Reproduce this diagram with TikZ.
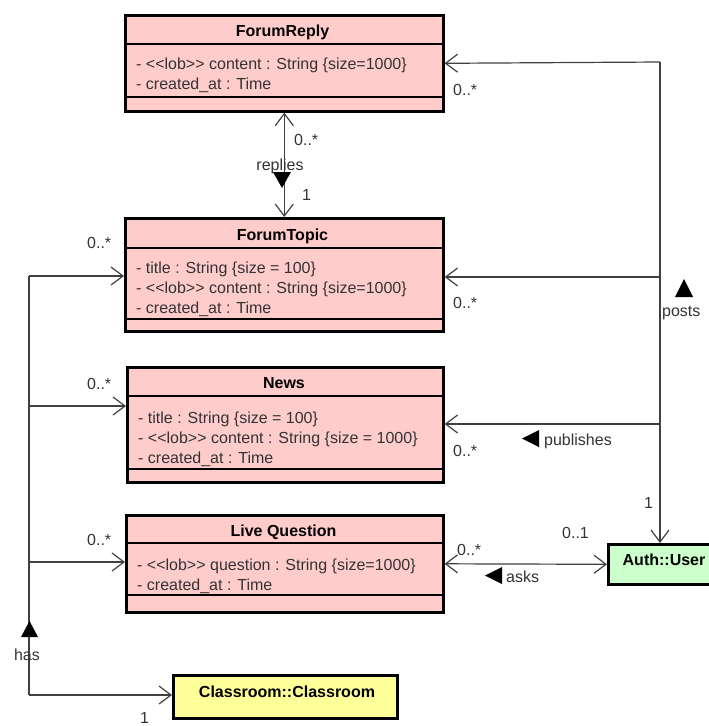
\documentclass[tikz,border=0pt]{standalone}
\usepackage{fontspec}
\setmainfont{Liberation Sans}[Ligatures=TeXOff]
\usetikzlibrary{arrows.meta}

\definecolor{clspink}{RGB}{255,204,204}
\definecolor{clsgreen}{RGB}{204,255,204}
\definecolor{clsyellow}{RGB}{255,255,153}
\definecolor{inkgrey}{RGB}{51,51,51}
\definecolor{linegrey}{RGB}{64,64,64}

\tikzset{
  classbox/.style={draw=black, line width=2.6pt, inner sep=0pt, anchor=north west},
  compart/.style={draw=black, line width=1.1pt},
  classtitle/.style={font=\fontsize{16}{19}\selectfont\bfseries, anchor=base, inner sep=0pt},
  attr/.style={text=inkgrey, anchor=base west, inner sep=0pt},
  mult/.style={text=inkgrey, anchor=base west, inner sep=0pt},
  assoc/.style={draw=linegrey, line width=1.2pt},
  dirmark/.style={fill=black},
}

\begin{document}
\begin{tikzpicture}[x=1pt, y=-1pt, font=\fontsize{16}{19}\selectfont,
  >={Straight Barb[length=12pt,width=18pt,line width=1.2pt]}]
\useasboundingbox (0,0) rectangle (709,726);

% ---------- classes ----------
\node[classbox, fill=clspink, minimum width=318pt, minimum height=96pt] (reply) at (124,14) {};
\draw[compart] (124,44) -- (442,44);
\draw[compart] (124,97) -- (442,97);
\node[classtitle] (replyname) at (282.5,36) {ForumReply};
\node[attr] (replya1) at (136,69) {- <<lob>> content : String \{size=1000\}};
\node[attr] (replya2) at (136,89) {- created\_at : Time};

\node[classbox, fill=clspink, minimum width=318pt, minimum height=113pt] (topic) at (124,217) {};
\draw[compart] (124,248) -- (442,248);
\draw[compart] (124,319) -- (442,319);
\node[classtitle] (topicname) at (282.5,240) {ForumTopic};
\node[attr] (topica1) at (136,273) {- title : String \{size = 100\}};
\node[attr] (topica2) at (136,293) {- <<lob>> content : String \{size=1000\}};
\node[attr] (topica3) at (136,313) {- created\_at : Time};

\node[classbox, fill=clspink, minimum width=316pt, minimum height=115pt] (news) at (126,366) {};
\draw[compart] (126,396) -- (442,396);
\draw[compart] (126,469) -- (442,469);
\node[classtitle] (newsname) at (284,388) {News};
\node[attr] (newsa1) at (138,423) {- title : String \{size = 100\}};
\node[attr] (newsa2) at (138,443) {- <<lob>> content : String \{size = 1000\}};
\node[attr] (newsa3) at (138,463) {- created\_at : Time};

\node[classbox, fill=clspink, minimum width=317pt, minimum height=97pt] (liveq) at (125,514) {};
\draw[compart] (125,543) -- (442,543);
\draw[compart] (125,595) -- (442,595);
\node[classtitle] (liveqname) at (283.5,536) {Live Question};
\node[attr] (liveqa1) at (137,570) {- <<lob>> question : String \{size=1000\}};
\node[attr] (liveqa2) at (137,590) {- created\_at : Time};

\node[classbox, fill=clsyellow, minimum width=224pt, minimum height=43pt] (classroom) at (172,674) {};
\node[classtitle] (classroomname) at (287,697) {Classroom::Classroom};

\node[classbox, fill=clsgreen, minimum width=114pt, minimum height=40pt] (user) at (607,543) {};
\node[classtitle] (username) at (664,565) {Auth::User};

% ---------- posts / publishes (user on the right) ----------
\coordinate (ptop) at (660,62);
\coordinate (ptopic) at (660,277);
\coordinate (pnews) at (660,424);
\coordinate (pend) at (660,543);
\draw[assoc, ->] (ptop) -- (pend);
\draw[assoc, ->] (ptop) -- (reply.east);
\draw[assoc, ->] (ptopic) -- (ptopic -| topic.east);
\draw[assoc, ->] (pnews) -- (pnews -| news.east);

\node[mult] (mreply) at (453,95) {0..*};
\node[mult] (mtopic) at (453,308) {0..*};
\node[mult] (mnews) at (453,456) {0..*};
\node[mult] (muser) at (644,508) {1};

\fill[dirmark] (675,297) -- (693,297) -- (684,279) -- cycle;
\node[mult] (postslbl) at (662,316) {posts};
\fill[dirmark] (539,430) -- (539,447) -- (522,438.5) -- cycle;
\node[mult] (publbl) at (544,445) {publishes};

% ---------- asks ----------
\draw[assoc, <->] (liveq.east) -- (user.west);
\node[mult] (mliveq) at (457,555) {0..*};
\node[mult] (muserask) at (562,538) {0..1};
\fill[dirmark] (502,567) -- (502,584) -- (485,575.5) -- cycle;
\node[mult] (askslbl) at (506,582) {asks};

% ---------- replies ----------
\draw[assoc, <->] (reply.south) -- (topic.north);
\node[mult] (mrep) at (294,145) {0..*};
\node[mult, anchor=base] (replbl) at (280,170) {replies};
\fill[dirmark] (273,172) -- (291,172) -- (282,188) -- cycle;
\node[mult] (mrep1) at (302,200) {1};

% ---------- has (classroom on the left trunk) ----------
\coordinate (ltopic) at (29,276);
\coordinate (lnews) at (29,406);
\coordinate (lliveq) at (29,562);
\coordinate (lroom) at (29,695);
\draw[assoc] (ltopic) -- (lroom);
\draw[assoc, ->] (ltopic) -- (ltopic -| topic.west);
\draw[assoc, ->] (lnews) -- (lnews -| news.west);
\draw[assoc, ->] (lliveq) -- (lliveq -| liveq.west);
\draw[assoc, ->] (lroom) -- (lroom -| classroom.west);

\node[mult] (mltopic) at (87,248) {0..*};
\node[mult] (mlnews) at (87,389) {0..*};
\node[mult] (mlliveq) at (87,545) {0..*};
\fill[dirmark] (21,637) -- (38,637) -- (29.5,621) -- cycle;
\node[mult, anchor=base] (haslbl) at (27,660) {has};
\node[mult] (mroom) at (140,723) {1};
\end{tikzpicture}
\end{document}
